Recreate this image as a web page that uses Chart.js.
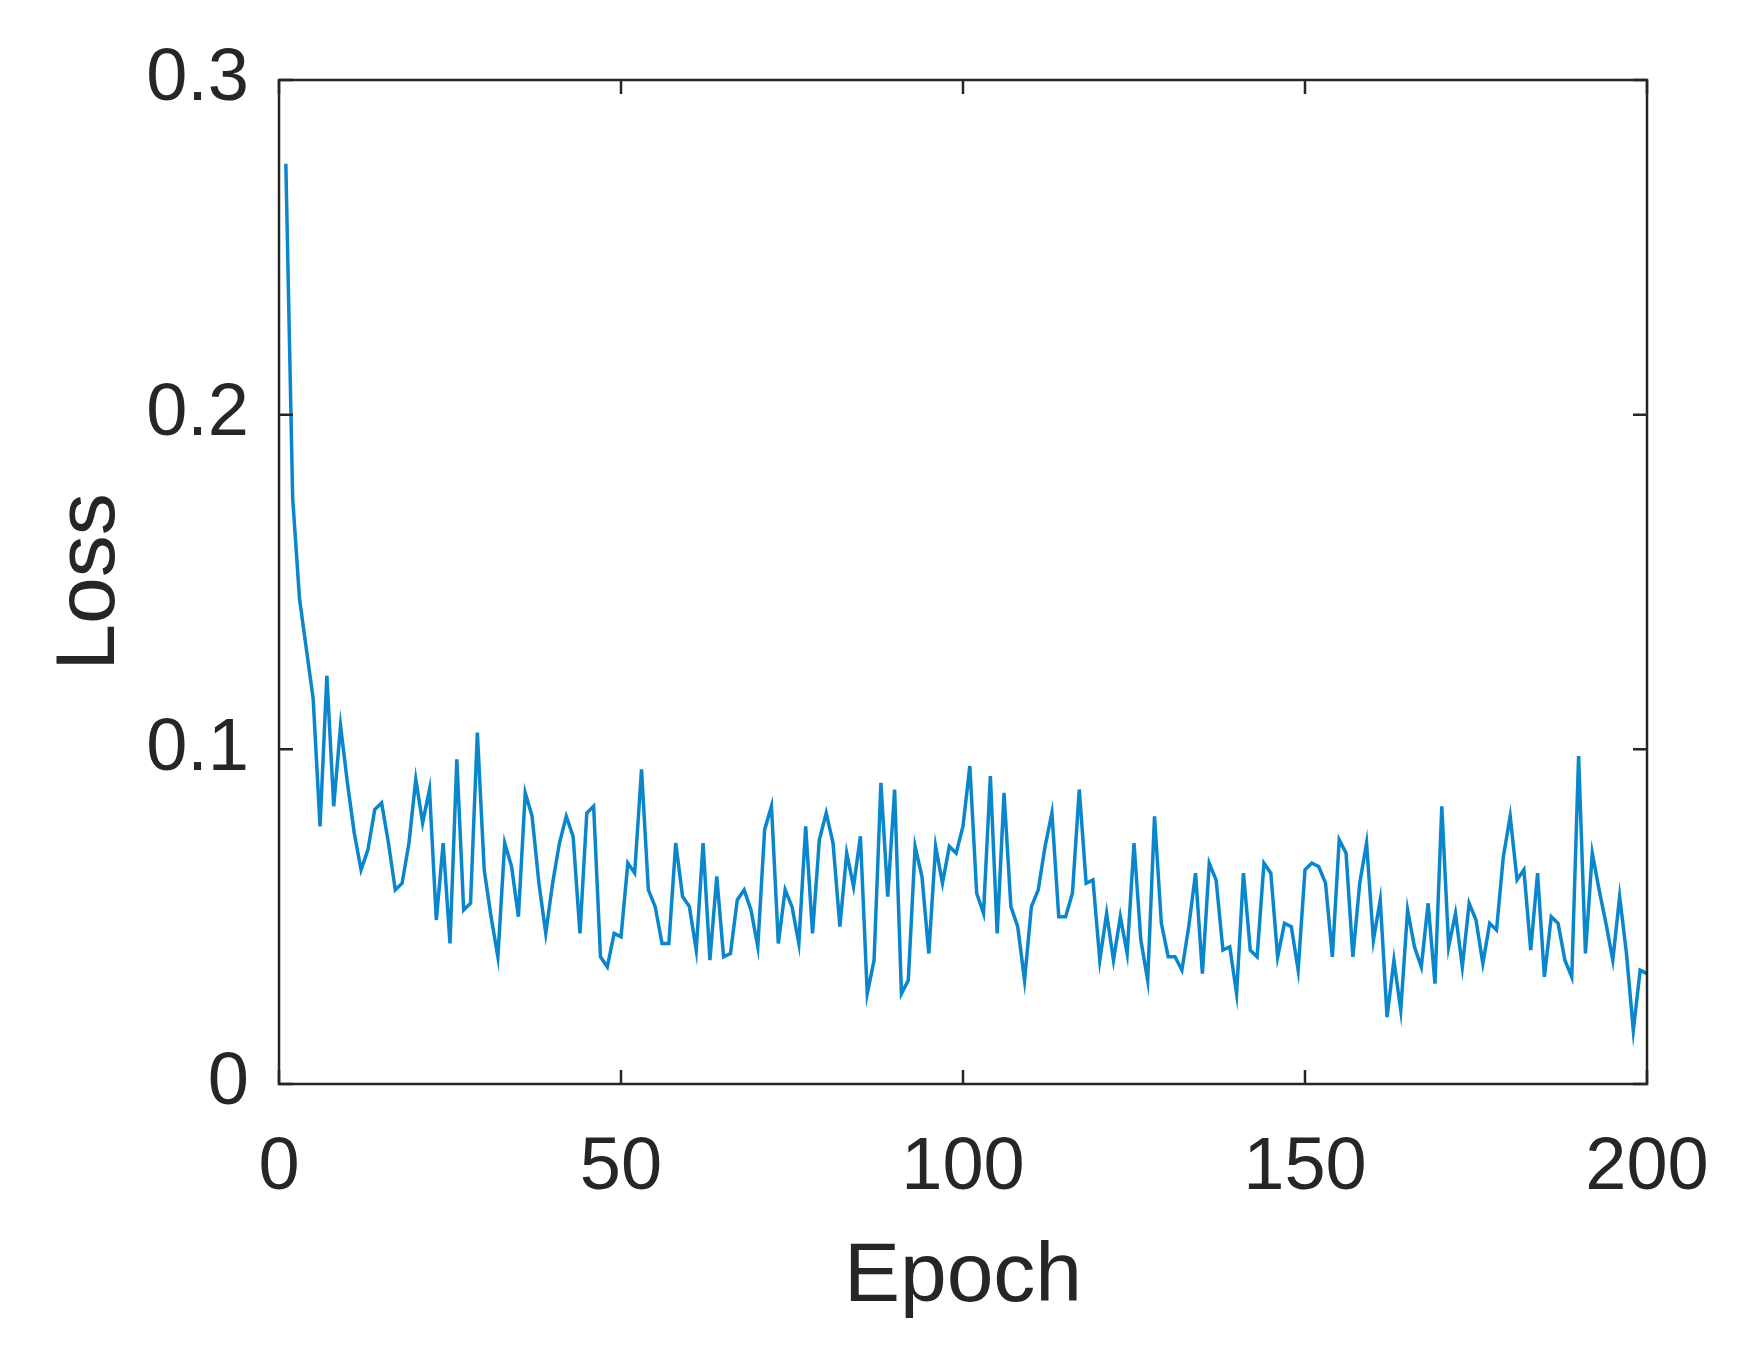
<!DOCTYPE html>
<html><head><meta charset="utf-8">
<script src="https://cdn.jsdelivr.net/npm/chart.js@4/dist/chart.umd.min.js"></script>
<style>html,body{margin:0;padding:0;background:#fff}canvas{display:block}</style>
</head><body>
<canvas id="c" width="1745" height="1353"></canvas>
<script>
const loss = [0.275,0.175,0.145,0.13,0.115,0.077,0.122,0.083,0.107,0.09,
0.075,0.064,0.07,0.082,0.084,0.072,0.058,0.06,0.072,0.091,
0.078,0.088,0.049,0.072,0.042,0.097,0.052,0.054,0.105,0.064,
0.05,0.038,0.072,0.065,0.05,0.087,0.08,0.06,0.045,0.06,
0.072,0.08,0.074,0.045,0.081,0.083,0.038,0.035,0.045,0.044,
0.066,0.063,0.094,0.058,0.053,0.042,0.042,0.072,0.056,0.053,
0.040,0.072,0.037,0.062,0.038,0.039,0.055,0.058,0.052,0.041,
0.076,0.083,0.042,0.058,0.053,0.042,0.077,0.045,0.073,0.081,
0.072,0.047,0.069,0.059,0.074,0.027,0.037,0.090,0.056,0.088,
0.027,0.031,0.071,0.062,0.039,0.071,0.060,0.071,0.069,0.077,
0.095,0.057,0.051,0.092,0.045,0.087,0.053,0.047,0.031,0.053,
0.058,0.071,0.081,0.050,0.050,0.057,0.088,0.060,0.061,0.037,
0.051,0.037,0.050,0.039,0.072,0.043,0.031,0.080,0.048,0.038,
0.038,0.034,0.047,0.063,0.033,0.066,0.061,0.040,0.041,0.027,
0.063,0.040,0.038,0.066,0.063,0.038,0.048,0.047,0.034,0.064,
0.066,0.065,0.060,0.038,0.073,0.069,0.038,0.060,0.072,0.043,
0.055,0.020,0.037,0.022,0.052,0.041,0.035,0.054,0.030,0.083,
0.041,0.051,0.035,0.054,0.049,0.036,0.048,0.046,0.068,0.080,
0.061,0.064,0.040,0.063,0.032,0.050,0.048,0.037,0.032,0.098,
0.039,0.069,0.058,0.048,0.037,0.056,0.039,0.016,0.034,0.033];
const epochs = loss.map((_, i) => i + 1);
const xTicks = [0, 50, 100, 150, 200];
const yTicks = [0, 0.1, 0.2, 0.3];

const FONT = 'Liberation Sans, Arial, Helvetica, sans-serif';
const boxPlugin = {
  id: 'box',
  afterDraw(chart) {
    const {ctx, chartArea: a, scales: {x, y}} = chart;
    ctx.save();
    ctx.strokeStyle = '#262626';
    ctx.lineWidth = 2.5;
    ctx.strokeRect(a.left, a.top, a.right - a.left, a.bottom - a.top);
    const L = 14;
    ctx.beginPath();
    xTicks.forEach(v => { const px = x.getPixelForValue(v);
      ctx.moveTo(px, a.bottom); ctx.lineTo(px, a.bottom - L);
      ctx.moveTo(px, a.top); ctx.lineTo(px, a.top + L); });
    yTicks.forEach(v => { const py = y.getPixelForValue(v);
      ctx.moveTo(a.left, py); ctx.lineTo(a.left + L, py);
      ctx.moveTo(a.right, py); ctx.lineTo(a.right - L, py); });
    ctx.stroke();
    ctx.restore();
  }
};

new Chart(document.getElementById('c'), {
  type: 'line',
  data: { datasets: [{ data: epochs.map((e, i) => ({x: e, y: loss[i]})),
    borderColor: '#0a86cc', borderWidth: 3.5, pointRadius: 0, tension: 0, fill: false }] },
  options: {
    responsive: false, animation: false,
    layout: { padding: { left: 0, top: 80, right: 98, bottom: 0 } },
    plugins: { legend: { display: false }, tooltip: { enabled: false } },
    scales: {
      x: { type: 'linear', min: 0, max: 200,
        afterFit(s) { s.height = 269; },
        afterBuildTicks(s) { s.ticks = xTicks.map(v => ({value: v})); },
        grid: { display: false }, border: { display: false },
        ticks: { color: '#262626', font: { family: FONT, size: 74 }, padding: 32, maxRotation: 0 },
        title: { display: true, text: 'Epoch', color: '#262626', font: { family: FONT, size: 84 }, padding: { top: 0, bottom: 25 } } },
      y: { min: 0, max: 0.3,
        afterFit(s) { s.width = 279; },
        afterBuildTicks(s) { s.ticks = yTicks.map(v => ({value: v})); },
        grid: { display: false }, border: { display: false },
        ticks: { color: '#262626', font: { family: FONT, size: 74 }, padding: 22,
          callback: v => v === 0 ? '0' : v.toFixed(1) },
        title: { display: true, text: 'Loss', color: '#262626', font: { family: FONT, size: 84 }, padding: { top: 40, bottom: 0 } } }
    }
  },
  plugins: [boxPlugin]
});
</script>
</body></html>
